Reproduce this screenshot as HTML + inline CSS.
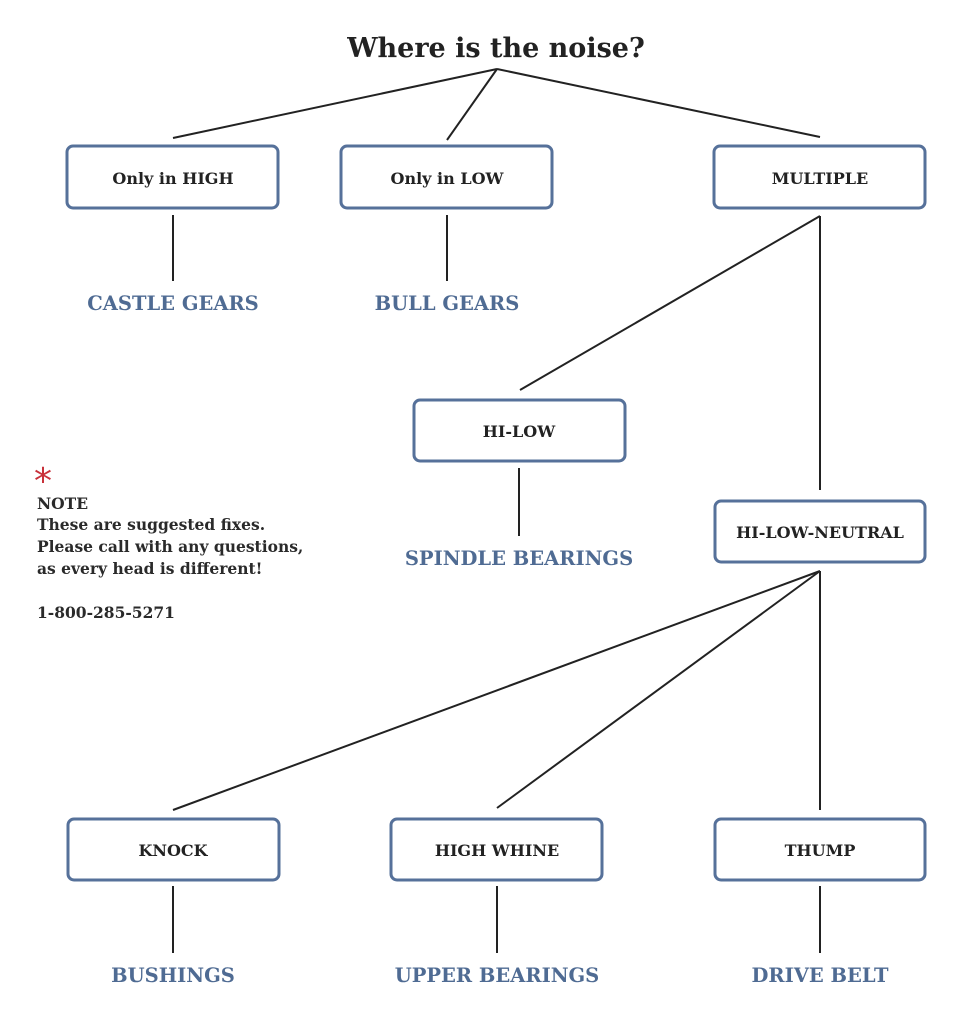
<!DOCTYPE html>
<html><head><meta charset="utf-8"><style>
html,body{margin:0;padding:0;background:#fff;}
svg{display:block;}
.t{font-family:"DejaVu Serif","Liberation Serif",serif;font-weight:bold;fill:#222;}
.b{font-family:"DejaVu Serif","Liberation Serif",serif;font-weight:bold;font-size:16px;fill:#222;text-anchor:middle;}
.l{font-family:"DejaVu Serif","Liberation Serif",serif;font-size:19.5px;fill:#4f6b93;text-anchor:middle;font-weight:bold;}
.n{font-family:"DejaVu Serif","Liberation Serif",serif;font-size:15.5px;fill:#2a2a2a;font-weight:bold;}
rect{fill:#fff;stroke:#56719a;stroke-width:3;}
line{stroke:#222;stroke-width:2;}
</style></head><body>
<svg width="963" height="1024" viewBox="0 0 963 1024" xmlns="http://www.w3.org/2000/svg">
<text class="t" x="496" y="57" font-size="27" text-anchor="middle">Where is the noise?</text>
<line x1="497" y1="69" x2="173" y2="138"/>
<line x1="497" y1="69" x2="447" y2="140"/>
<line x1="497" y1="69" x2="820" y2="137"/>
<rect x="67" y="146" width="211" height="62" rx="6"/>
<rect x="341" y="146" width="211" height="62" rx="6"/>
<rect x="714" y="146" width="211" height="62" rx="6"/>
<text class="b" x="173" y="184">Only in HIGH</text>
<text class="b" x="447" y="184">Only in LOW</text>
<text class="b" x="820" y="184">MULTIPLE</text>
<line x1="173" y1="215" x2="173" y2="281"/>
<line x1="447" y1="215" x2="447" y2="281"/>
<text class="l" x="173" y="310">CASTLE GEARS</text>
<text class="l" x="447" y="310">BULL GEARS</text>
<line x1="820" y1="216" x2="520" y2="390"/>
<line x1="820" y1="216" x2="820" y2="490"/>
<rect x="414" y="400" width="211" height="61" rx="6"/>
<text class="b" x="519" y="437">HI-LOW</text>
<line x1="519" y1="468" x2="519" y2="536"/>
<text class="l" x="519" y="565">SPINDLE BEARINGS</text>
<rect x="715" y="501" width="210" height="61" rx="6"/>
<text class="b" x="820" y="538">HI-LOW-NEUTRAL</text>
<line x1="820" y1="571" x2="173" y2="810"/>
<line x1="820" y1="571" x2="497" y2="808"/>
<line x1="820" y1="571" x2="820" y2="810"/>
<rect x="68" y="819" width="211" height="61" rx="6"/>
<rect x="391" y="819" width="211" height="61" rx="6"/>
<rect x="715" y="819" width="210" height="61" rx="6"/>
<text class="b" x="173" y="856">KNOCK</text>
<text class="b" x="497" y="856">HIGH WHINE</text>
<text class="b" x="820" y="856">THUMP</text>
<line x1="173" y1="886" x2="173" y2="953"/>
<line x1="497" y1="886" x2="497" y2="953"/>
<line x1="820" y1="886" x2="820" y2="953"/>
<text class="l" x="173" y="982">BUSHINGS</text>
<text class="l" x="497" y="982">UPPER BEARINGS</text>
<text class="l" x="820" y="982">DRIVE BELT</text>
<text x="34" y="493" font-family="DejaVu Sans,sans-serif" font-size="36" fill="#c8313a">*</text>
<text class="n" x="37" y="509">NOTE</text>
<text class="n" x="37" y="530">These are suggested fixes.</text>
<text class="n" x="37" y="552">Please call with any questions,</text>
<text class="n" x="37" y="574">as every head is different!</text>
<text class="n" x="37" y="618">1-800-285-5271</text>
</svg>
</body></html>
